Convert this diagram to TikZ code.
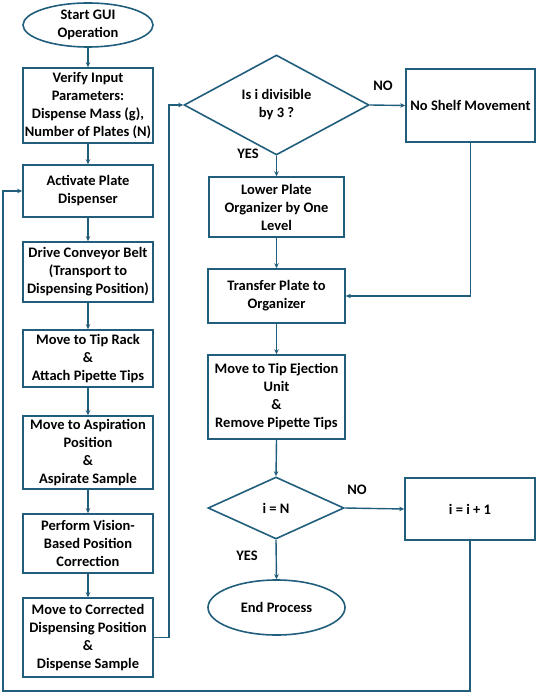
\documentclass[tikz,border=0pt]{standalone}
\usepackage{fontspec}
\setmainfont{Carlito}
\usetikzlibrary{shapes.geometric,arrows.meta}
\definecolor{fc}{RGB}{33,94,124}
\begin{document}
\begin{tikzpicture}[x=1pt,y=-1pt,
  every node/.style={font=\fontsize{14.5}{18}\selectfont\bfseries, text=black, align=center, inner sep=0pt},
  box/.style={draw=fc, line width=1.6pt, rectangle, minimum width=#1},
  box/.default=130,
  term/.style={draw=fc, line width=1.6pt, ellipse},
  dec/.style={draw=fc, line width=1.6pt, diamond},
  arr/.style={draw=fc, line width=1.4pt, -{Stealth[length=5pt,width=4.5pt]}},
  lbl/.style={font=\fontsize{14.5}{16}\selectfont\bfseries}]
\useasboundingbox (0,0) rectangle (538,692);
% left column
\node[term, minimum width=130, minimum height=44] (start) at (88,25) {Start GUI\\Operation};
\node[box, minimum height=75] (verify) at (88,105.5) {Verify Input\\Parameters:\\Dispense Mass (g),\\Number of Plates (N)};
\node[box, minimum height=52] (activate) at (88,191) {Activate Plate\\Dispenser};
\node[box, minimum height=60] (drive) at (88,272) {Drive Conveyor Belt\\(Transport to\\Dispensing Position)};
\node[box, minimum height=57] (tiprack) at (88,358.5) {Move to Tip Rack\\\&\\Attach Pipette Tips};
\node[box, minimum height=73] (aspir) at (88,452.5) {Move to Aspiration\\Position\\\&\\Aspirate Sample};
\node[box, minimum height=59] (vision) at (88,543.5) {Perform Vision-\\Based Position\\Correction};
\node[box, minimum height=79] (dispense) at (88,637.5) {Move to Corrected\\Dispensing Position\\\&\\Dispense Sample};
% right column
\node[dec, minimum width=185, minimum height=74] (d1) at (276.5,105) {Is i divisible\\by 3 ?};
\node[box=129, minimum height=73] (noshelf) at (470.5,105.5) {No Shelf Movement};
\node[box=135, minimum height=60] (lower) at (276.5,207) {Lower Plate\\Organizer by One\\Level};
\node[box=137, minimum height=54] (transfer) at (276.5,296) {Transfer Plate to\\Organizer};
\node[box=137, minimum height=84] (eject) at (276.5,397) {Move to Tip Ejection\\Unit\\\&\\Remove Pipette Tips};
\node[dec, minimum width=136, minimum height=62] (d2) at (276,508) {i = N};
\node[box=130, minimum height=62] (inc) at (470,509) {i = i + 1};
\node[term, minimum width=137, minimum height=55] (end) at (276.5,607.5) {End Process};
% labels
\node[lbl] (no1) at (383,86) {NO};
\node[lbl] (yes1) at (248,154) {YES};
\node[lbl] (no2) at (357,490) {NO};
\node[lbl] (yes2) at (247,556) {YES};
\coordinate (lb) at (3,691);
% connectors
\draw[arr] (start) -- (verify);
\draw[arr] (verify) -- (activate);
\draw[arr] (activate) -- (drive);
\draw[arr] (drive) -- (tiprack);
\draw[arr] (tiprack) -- (aspir);
\draw[arr] (aspir) -- (vision);
\draw[arr] (vision) -- (dispense);
\draw[arr] (dispense.east) -- ++(15,0) |- (d1.west);
\draw[arr] (d1.east) -- (noshelf.west);
\draw[arr] (d1.south) -- (lower.north);
\draw[arr] (lower) -- (transfer);
\draw[arr] (noshelf.south) |- (transfer.east);
\draw[arr] (transfer) -- (eject);
\draw[arr] (eject.south) -- (d2.north);
\draw[arr] (d2.east) -- (inc.west);
\draw[arr] (d2.south) -- (end.north);
\draw[arr] (inc.south) |- (lb) |- (activate.west);
\end{tikzpicture}
\end{document}
